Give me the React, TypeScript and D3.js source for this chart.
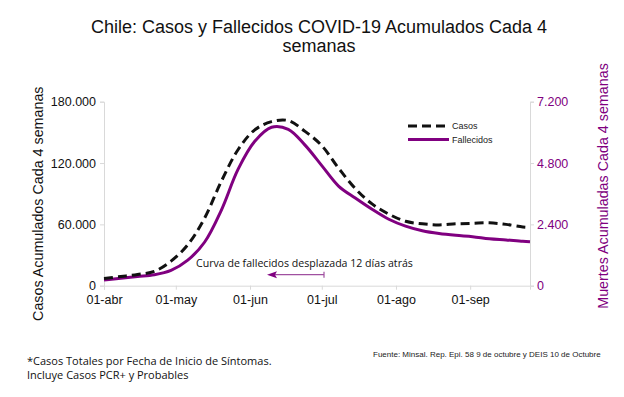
import { useEffect, useRef } from 'react'
import * as d3 from 'd3'

// weekly samples, Apr 1 -> Sep 26 2020
const dates = [
  '2020-04-01', '2020-04-08', '2020-04-15', '2020-04-22', '2020-04-29',
  '2020-05-06', '2020-05-13', '2020-05-20', '2020-05-27', '2020-06-03',
  '2020-06-10', '2020-06-17', '2020-06-24', '2020-07-01', '2020-07-08',
  '2020-07-15', '2020-07-22', '2020-07-29', '2020-08-05', '2020-08-12',
  '2020-08-19', '2020-08-26', '2020-09-02', '2020-09-09', '2020-09-16',
  '2020-09-23', '2020-09-26',
]
const casos = [
  7000, 9000, 11000, 14000, 24000,
  40000, 66000, 102000, 133000, 152500,
  160500, 161500, 151000, 137000, 115000,
  95000, 80000, 70000, 63000, 60500,
  59500, 60500, 61000, 61500, 60000,
  57500, 57000,
]
const fallecidos = [
  220, 290, 360, 430, 600,
  1000, 1700, 2950, 4550, 5650,
  6200, 6120, 5500, 4700, 3900,
  3430, 2990, 2600, 2330, 2150,
  2040, 1970, 1920, 1840, 1790,
  1735, 1720,
]
const leftTicks = [0, 60000, 120000, 180000]
const rightTicks = [0, 2400, 4800, 7200]
const monthTicks = ['2020-04-01', '2020-05-01', '2020-06-01', '2020-07-01', '2020-08-01', '2020-09-01']
const monthNames = ['abr', 'may', 'jun', 'jul', 'ago', 'sep']

const W = 624
const H = 397
const plot = { left: 104, right: 530, top: 101.7, bottom: 285.7 }
const purple = '#800080'
const axisGray = '#d9d9d9'
const sans = '"Liberation Sans", Arial, sans-serif'
const human = '"Open Sans", "DejaVu Sans", sans-serif'

const parse = d3.timeParse('%Y-%m-%d')
const fmt = (v: number) => d3.format(',')(v).replace(/,/g, '.')

function App() {
  const ref = useRef<SVGSVGElement>(null)

  useEffect(() => {
    const svg = d3.select(ref.current)
    svg.selectAll('*').remove()

    const x = d3.scaleTime()
      .domain([parse('2020-04-01')!, parse('2020-09-26')!])
      .range([plot.left, plot.right])
    const yL = d3.scaleLinear().domain([0, 180000]).range([plot.bottom, plot.top])
    const yR = d3.scaleLinear().domain([0, 7200]).range([plot.bottom, plot.top])

    const rows = dates.map((d, i) => ({ date: parse(d)!, c: casos[i], f: fallecidos[i] }))

    // title
    const title = svg.append('text')
      .attr('x', 319).attr('text-anchor', 'middle')
      .attr('font-family', sans).attr('font-size', 18).attr('fill', '#111')
    title.append('tspan').attr('x', 319).attr('y', 33)
      .text('Chile: Casos y Fallecidos COVID-19 Acumulados Cada 4')
    title.append('tspan').attr('x', 319).attr('y', 52).text('semanas')

    // axes
    const axL = svg.append('g').attr('transform', `translate(${plot.left},0)`)
      .call(d3.axisLeft(yL).tickValues(leftTicks).tickSize(4).tickPadding(4).tickFormat(d => fmt(+d)))
    const axR = svg.append('g').attr('transform', `translate(${plot.right},0)`)
      .call(d3.axisRight(yR).tickValues(rightTicks).tickSize(4).tickPadding(3).tickFormat(d => fmt(+d)))
    const axX = svg.append('g').attr('transform', `translate(0,${plot.bottom})`)
      .call(d3.axisBottom(x).tickValues(monthTicks.map(m => parse(m)!)).tickSize(4).tickPadding(5)
        .tickFormat((d, i) => `01-${monthNames[i]}`))

    for (const ax of [axL, axR, axX]) {
      ax.select('.domain').attr('stroke', axisGray)
      ax.selectAll('.tick line').attr('stroke', axisGray)
      ax.selectAll('.tick text').attr('font-family', sans).attr('font-size', 12.5)
    }
    axL.selectAll('.tick text').attr('fill', '#111')
    axX.selectAll('.tick text').attr('fill', '#111')
    axR.selectAll('.tick text').attr('fill', purple)

    // axis titles
    svg.append('text')
      .attr('transform', `translate(43,${(plot.top + plot.bottom) / 2 + 10}) rotate(-90)`)
      .attr('text-anchor', 'middle').attr('font-family', sans).attr('font-size', 14.3).attr('fill', '#111')
      .text('Casos Acumulados Cada 4 semanas')
    svg.append('text')
      .attr('transform', `translate(608,186) rotate(-90)`)
      .attr('text-anchor', 'middle').attr('font-family', sans).attr('font-size', 14.3).attr('fill', purple)
      .text('Muertes Acumuladas Cada 4 semanas')

    // lines
    const lineC = d3.line<typeof rows[0]>().x(d => x(d.date)).y(d => yL(d.c)).curve(d3.curveCatmullRom.alpha(0.5))
    const lineF = d3.line<typeof rows[0]>().x(d => x(d.date)).y(d => yR(d.f)).curve(d3.curveCatmullRom.alpha(0.5))

    svg.append('path').attr('d', lineF(rows)).attr('fill', 'none')
      .attr('stroke', purple).attr('stroke-width', 3)
    svg.append('path').attr('d', lineC(rows)).attr('fill', 'none')
      .attr('stroke', '#111').attr('stroke-width', 3).attr('stroke-dasharray', '9,5')

    // legend
    const lg = svg.append('g')
    lg.append('line').attr('x1', 408).attr('x2', 449).attr('y1', 126).attr('y2', 126)
      .attr('stroke', '#111').attr('stroke-width', 3).attr('stroke-dasharray', '9,5')
    lg.append('line').attr('x1', 408).attr('x2', 449).attr('y1', 139.5).attr('y2', 139.5)
      .attr('stroke', purple).attr('stroke-width', 3)
    lg.append('text').attr('x', 452).attr('y', 129).attr('font-family', sans).attr('font-size', 9)
      .attr('fill', '#222').text('Casos')
    lg.append('text').attr('x', 452).attr('y', 142.5).attr('font-family', sans).attr('font-size', 9)
      .attr('fill', '#222').text('Fallecidos')

    // annotation
    svg.append('text').attr('x', 196).attr('y', 266.5).attr('font-family', human).attr('font-size', 10.6)
      .attr('fill', '#111').text('Curva de fallecidos desplazada 12 días atrás')
    const ay = 274.7
    svg.append('line').attr('x1', 272).attr('x2', 324).attr('y1', ay).attr('y2', ay)
      .attr('stroke', '#a050a0').attr('stroke-width', 1.2)
    svg.append('line').attr('x1', 324).attr('x2', 324).attr('y1', ay - 3).attr('y2', ay + 3)
      .attr('stroke', '#a050a0').attr('stroke-width', 1.2)
    svg.append('path').attr('d', `M267,${ay} L277,${ay - 3.5} L275,${ay} L277,${ay + 3.5} Z`)
      .attr('fill', purple)

    // footnotes
    svg.append('text').attr('x', 27).attr('y', 364.5).attr('font-family', human).attr('font-size', 11)
      .attr('fill', '#111').text('*Casos Totales por Fecha de Inicio de Síntomas.')
    svg.append('text').attr('x', 27).attr('y', 378.5).attr('font-family', human).attr('font-size', 11)
      .attr('fill', '#111').text('Incluye Casos PCR+ y Probables')

    svg.append('text').attr('x', 373).attr('y', 357).attr('font-family', sans).attr('font-size', 8)
      .attr('fill', '#222').text('Fuente: Minsal. Rep. Epi. 58 9 de octubre y DEIS 10 de Octubre')
  }, [])

  return (
    <svg ref={ref} width={W} height={H} style={{ position: 'absolute', left: 0, top: 0, background: '#fff' }} />
  )
}

export default App
